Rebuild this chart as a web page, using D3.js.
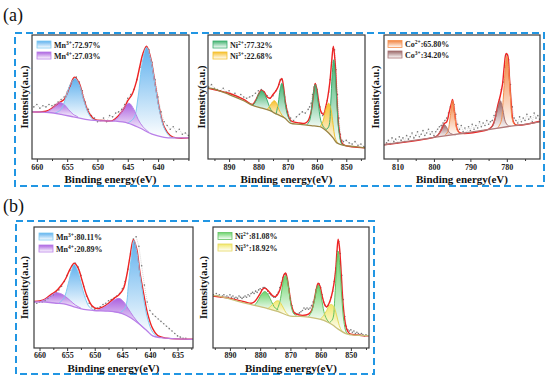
<!DOCTYPE html>
<html>
<head>
<meta charset="utf-8">
<script src="https://cdn.jsdelivr.net/npm/d3@7"></script>
<style>body{margin:0;background:#fff}</style>
</head>
<body>
<svg id="fig" width="550" height="380"></svg>
<script>
// ---- data: [binding energy (eV), intensity (a.u., 0-100)] ----

// (a) Mn 2p
var mnA_raw = [[660.5,42],[660,44],[659.5,41],[659,43],[658.5,42],[658,44],[657.5,43],[657,44],[656.5,46],[656,48],[655.5,50],[655,54],[654.5,59],[654,64],[653.5,66],[653,62],[652.5,55],[652,46],[651.5,40],[651,35],[650.5,33],[650,30],[649.5,31],[649,33],[648.5,30],[648,35],[647.5,34],[647,37],[646.5,38],[646,40],[645.5,44],[645,49],[644.5,52],[644,56],[643.5,64],[643,74],[642.5,84],[642,90],[641.5,88],[641,78],[640.5,64],[640,50],[639.5,38],[639,30],[638.5,27],[638,24],[637.5,26],[637,22],[636.5,24],[636,20],[635.5,21],[635,19]];
var mnA_bg = [[660.8,38],[658,37.5],[656,36],[654,34],[652,32],[650,31],[647,30.5],[645,29],[643,25],[641,20],[639,17.5],[637,17],[634.9,17]];
var mnA_env = [[660.8,38],[658.5,38.5],[657.5,41],[656.5,45],[655.5,48],[654.6,58],[653.8,66],[653,61],[652.3,49],[651.5,38],[650.5,32],[649,31],[647.5,31],[646.5,35],[645.5,42],[645,47],[644.3,52],[643.6,62],[643,75],[642.5,85],[641.9,91],[641.2,81],[640.5,61],[639.8,41],[639,26],[638,19],[637,17],[634.9,17]];
var mnA_m3a = [[645,29],[644,33],[643.3,50],[642.6,78],[641.9,90],[641.2,80],[640.5,60],[639.8,40],[639,25],[638,18],[637.3,17]];
var mnA_m3b = [[657,37],[656,40],[655.2,50],[654.5,60],[653.7,65],[653,60],[652.3,48],[651.6,38],[650.8,32],[650,31]];
var mnA_m4a = [[647.5,30.5],[646.5,34],[645.8,40],[644.8,45],[644,40],[643.3,32],[642.5,26],[641.5,21.5]];
var mnA_m4b = [[658.5,37.5],[657.6,40],[656.8,44],[656.2,45.5],[655.5,44],[654.8,40],[654,36],[653.2,34]];
var mnA_leg = [["Mn","3+",":72.97%"],["Mn","4+",":27.03%"]];

// (a) Ni 2p
var niA_raw = [[897,58],[896,60],[895,57],[894,56],[893,55],[892,57],[891,54],[890,55],[889,52],[888,53],[887,50],[886,52],[885,50],[884,49],[883,50],[882,51],[881,53],[880,55],[879,56],[878,54],[877,51],[876,49],[875,51],[874,55],[873,60],[872.5,64],[872,64],[871.5,58],[871,50],[870.5,43],[870,38],[869,33],[868,31],[867,34],[866,36],[865,38],[864,37],[863,40],[862.5,42],[862,45],[861.5,52],[861,58],[860.5,60],[860,56],[859.5,48],[859,42],[858.5,37],[858,35],[857.5,37],[857,42],[856.5,47],[856,54],[855.5,64],[855,78],[854.5,89],[854,88],[853.5,72],[853,52],[852.5,33],[852,20],[851.5,15],[851,14],[850,15],[849,13],[848,12],[847,14],[846,11],[845,12],[844,10]];
var niA_bg = [[897.2,57],[895.9,57],[890,52],[885,47],[881.7,43],[878.8,41],[876,39],[874.5,37],[872.6,35],[871,33],[869.1,29],[865.7,28],[862,27],[858.9,26],[857.5,24],[856,21],[854.5,17],[853.2,13],[850.9,11],[847,10],[843.6,9]];
var niA_env = [[897.2,57],[890,53],[885,48],[882,44],[881,47],[880,52],[879,55.5],[878,54],[877,50],[876,49],[875,52],[874,55],[873.3,58],[872.6,63],[872,65],[871.4,58],[870.8,46],[870,37],[869,31],[866,29],[864,29],[863,31],[862,38],[861.3,50],[860.6,61],[860,56],[859.4,46],[858.6,38],[857.8,36],[857,42],[856.3,50],[855.6,62],[855,78],[854.4,91],[853.8,78],[853.2,50],[852.5,25],[851.5,13],[850.5,11],[843.6,9]];
var niA_n2a = [[857,23.5],[856,26],[855.3,45],[854.8,68],[854.3,80],[853.8,70],[853.2,45],[852.5,22],[851.5,12],[850.5,11]];
var niA_n2b = [[863.5,27.5],[862.5,31],[861.6,46],[860.6,60],[859.6,46],[858.7,31],[857.8,26],[857,24]];
var niA_n2c = [[874,36],[873.2,45],[872.6,56],[872,61],[871.4,55],[870.8,44],[870,35],[869,30]];
var niA_n2d = [[882,43],[880.8,47],[879.8,53],[878.8,55],[877.8,52],[876.8,46],[875.8,40],[875,38]];
var niA_n3a = [[859,26],[858,30],[857,40],[856,45],[855.2,40],[854.5,28],[853.8,17],[853,13]];
var niA_n3b = [[877,40],[876,43],[875.2,46],[874.5,47],[873.8,45],[873,40],[872,35.5],[871,33]];
var niA_leg = [["Ni","2+",":77.32%"],["Ni","3+",":22.68%"]];

// (a) Co 2p
var coA_raw = [[813,13],[812.5,15],[812,12],[811.5,17],[811,14],[810.5,16],[810,13],[809.5,18],[809,15],[808.5,17],[808,14],[807.5,19],[807,16],[806.5,18],[806,21],[805.5,17],[805,19],[804.5,22],[804,18],[803.5,20],[803,23],[802.5,19],[802,21],[801.5,24],[801,20],[800.5,22],[800,19],[799.5,22],[799,24],[798.5,26],[798,27],[797.5,29],[797,31],[796.5,33],[796,37],[795.5,42],[795,46],[794.5,44],[794,36],[793.5,28],[793,24],[792.5,27],[792,22],[791.5,25],[791,21],[790.5,26],[790,23],[789.5,28],[789,24],[788.5,27],[788,25],[787.5,30],[787,26],[786.5,29],[786,27],[785.5,31],[785,28],[784.5,30],[784,31],[783.5,35],[783,38],[782.5,42],[782,48],[781.5,56],[781,62],[780.5,74],[780,84],[779.5,80],[779,60],[778.5,42],[778,33],[777.5,31],[777,29],[776.5,34],[776,30],[775.5,33],[775,31],[774.5,36],[774,32],[773.5,34],[773,30],[772.5,37],[772,33],[771.5,35],[771,32]];
var coA_bg = [[813.7,11.5],[805,15.2],[800,17.4],[795,19.5],[790,21.6],[785,23.8],[780,26],[775,28],[770.9,30]];
var coA_env = [[813.7,11.5],[800,17.5],[799,19],[798,23.5],[797.2,28.5],[796.5,30],[795.8,38],[795.2,45],[794.9,48],[794.3,37],[793.6,24],[792.8,21],[786,23],[785,24],[784,26.5],[783.2,33],[782.5,43],[781.8,51],[781.2,60],[780.7,75],[780.2,85],[779.8,84],[779.3,66],[778.8,45],[778.2,30],[777.5,27.5],[770.9,30.5]];
var coA_c2a = [[782.5,25],[781.6,30],[781,48],[780.5,70],[780,83],[779.5,72],[779,50],[778.5,32],[777.8,27.5],[777,27.3]];
var coA_c2b = [[797,19],[796.2,22],[795.5,35],[794.9,47],[794.3,36],[793.6,23],[792.8,20.5],[792,20.5]];
var coA_c3a = [[785,24],[784,26],[783.2,32],[782.5,41],[781.8,47],[781.1,40],[780.4,30],[779.6,26.8],[779,26.5]];
var coA_c3b = [[800,17.5],[799,19],[798.2,23],[797.5,27.5],[797.2,28],[796.6,26],[795.8,21.5],[795,20],[794,19.5]];
var coA_leg = [["Co","2+",":65.80%"],["Co","3+",":34.20%"]];

// (b) Mn 2p
var mnB_raw = [[661,38],[660.5,37],[660,38],[659.5,38],[659,39],[658.5,41],[658,43],[657.5,44],[657,46],[656.5,48],[656,51],[655.5,55],[655,60],[654.5,64],[654,68],[653.5,70],[653,67],[652.5,60],[652,51],[651.5,43],[651,37],[650.5,34],[650,32],[649.5,33],[649,34],[648.5,36],[648,37],[647.5,39],[647,40],[646.5,41],[646,43],[645.5,45],[645,49],[644.5,55],[644,65],[643.5,78],[643,90],[642.5,92],[642,84],[641.5,68],[641,52],[640.5,38],[640,31],[639.5,28],[639,26],[638.5,24],[638,22],[637.5,20],[637,18],[636.5,16],[636,14],[635.5,12],[635,10],[634.5,9],[634,8],[633.5,8]];
var mnB_bg = [[661,38],[659,38],[657,37],[655.6,36.5],[654,34.5],[652,32],[650.2,31],[648,30.5],[646.6,30],[645,28.5],[643.5,25],[642,20],[640.5,14],[639.5,10],[638,8.5],[636,7.8],[632.2,7.2]];
var mnB_env = [[661,38.5],[660,39],[659,40.5],[658,44],[657,47],[656.2,51],[655.3,57],[654.5,65],[653.7,70],[653,66],[652.3,56],[651.5,44],[650.5,35],[649.5,32.5],[648.5,34],[647.5,37],[646.5,41],[645.6,44],[644.8,49],[644.2,60],[643.6,76],[643,89.5],[642.4,82],[641.8,62],[641.1,44],[640.4,28],[639.5,16],[638.5,10],[637,8.2],[632.2,7.2]];
var mnB_m3a = [[645.5,29],[644.5,33],[643.9,52],[643.4,74],[642.9,89],[642.4,80],[641.8,60],[641.2,42],[640.4,24],[639.5,13],[638.5,9]];
var mnB_m3b = [[656.5,37],[655.6,41],[654.8,53],[654.2,64],[653.7,69],[653.1,64],[652.4,52],[651.7,41],[651,34],[650.2,31.5]];
var mnB_m4a = [[649.5,31],[648.5,33],[647.5,36],[646.5,39.5],[645.6,41],[644.8,38.5],[644,33],[643,26],[642,20.5],[641,16]];
var mnB_m4b = [[659.8,38.5],[659,40],[658,43],[657.1,45.5],[656.2,45],[655.3,42.5],[654.4,39],[653.5,35.5],[652.5,33]];
var mnB_leg = [["Mn","3+",":80.11%"],["Mn","4+",":20.89%"]];

// (b) Ni 2p
var niB_raw = [[895.5,44],[895,43],[894.5,45],[894,43],[893.5,44],[893,42],[892.5,43],[892,44],[891.5,42],[891,43],[890.5,42],[890,44],[889.5,42],[889,43],[888.5,41],[888,42],[887.5,41],[887,43],[886.5,42],[886,41],[885.5,42],[885,43],[884.5,42],[884,44],[883.5,43],[883,45],[882.5,46],[882,45],[881.5,47],[881,46],[880.5,48],[880,49],[879.5,48],[879,50],[878.5,50],[878,49],[877.5,47],[877,45],[876.5,44],[876,43],[875.5,42],[875,42],[874.5,44],[874,46],[873.5,50],[873,54],[872.5,58],[872,61],[871.5,61],[871,57],[870.5,49],[870,41],[869.5,35],[869,30],[868.5,29],[868,28],[867.5,28],[867,29],[866.5,30],[866,31],[865.5,33],[865,32],[864.5,33],[864,32],[863.5,33],[863,35],[862.5,38],[862,42],[861.5,48],[861,52],[860.5,53],[860,50],[859.5,44],[859,38],[858.5,35],[858,34],[857.5,35],[857,38],[856.5,42],[856,47],[855.5,55],[855,66],[854.5,80],[854,88],[853.5,78],[853,60],[852.5,40],[852,26],[851.5,18],[851,15],[850.5,14],[850,15],[849.5,13],[849,14],[848.5,12],[848,13],[847.5,12],[847,11],[846.5,12],[846,11],[845.5,10],[845,11]];
var niB_bg = [[895.6,43.5],[894,43],[885,37],[878,33],[874,30],[870,26.4],[865.5,26],[860,23.7],[857.8,21.6],[856,19],[854.2,15.6],[851.4,11.6],[849.8,10.8],[844,10.2]];
var niB_env = [[895.6,43],[890,41],[885,38],[883,37],[882,38],[881,41],[880,45],[879.2,48.5],[878.4,49.5],[877.6,48],[876.7,45.5],[875.8,43],[875,42.5],[874.3,44],[873.5,48],[872.7,55],[872.2,60],[871.6,62],[871,57],[870.4,47],[869.6,35],[868.8,29.5],[868,28],[866,27],[864,28],[863,31],[862,41],[861.4,49],[860.8,53.5],[860.2,51],[859.5,43],[858.7,36],[858,34],[857.2,37],[856.4,43],[855.6,53],[855,65],[854.6,80],[854.2,90],[853.8,84],[853.2,62],[852.6,37],[852,23],[851.3,15],[850.5,12],[849,11],[844,10]];
var niB_n2a = [[857,21],[856,24],[855.3,42],[854.8,64],[854.2,80],[853.6,66],[853,42],[852.3,22],[851.5,13],[850.5,11]];
var niB_n2b = [[864,26],[863,30],[862,40],[861.4,48],[860.8,52],[860.2,48],[859.5,38],[858.7,28],[857.8,23],[857,21]];
var niB_n2c = [[874.5,31],[873.5,38],[872.7,50],[872.2,57],[871.6,60],[871,56],[870.4,46],[869.6,33],[868.8,28],[868,27]];
var niB_n2d = [[882,35],[881,38],[880,42.5],[879.2,45.5],[878.4,46.6],[877.6,45],[876.7,41],[875.8,36],[875,33],[874,31.5]];
var niB_n3a = [[860,24],[859,27],[858,31],[857.2,35],[856.4,36],[855.6,34],[854.8,28],[854,20],[853.2,15],[852.5,13]];
var niB_n3b = [[877.5,32.5],[876.5,34.5],[875.5,37],[874.8,38.6],[874,39],[873.2,37],[872.3,33],[871.4,29],[870.5,27]];
var niB_leg = [["Ni","2+",":81.08%"],["Ni","3+",":18.92%"]];

// x tick labels
var mnA_ticks = [660, 655, 650, 645, 640];
var niA_ticks = [890, 880, 870, 860, 850];
var coA_ticks = [810, 800, 790, 780];
var mnB_ticks = [660, 655, 650, 645, 640, 635];
var niB_ticks = [890, 880, 870, 860, 850];

// ---- styles ----
var FONT = "'Liberation Serif','Times New Roman',serif";
var blue = {line: "#80caf2", top: "#4ea8ec"},
    purple = {line: "#b97fe8", top: "#a250dc"},
    green = {line: "#3cae6e", top: "#2fac62"},
    yellow = {line: "#f2c12e", top: "#f6b916"},
    orange = {line: "#f5904e", top: "#f07428"},
    brown = {line: "#a87272", top: "#8e5656"},
    green2 = {line: "#62c262", top: "#5ccf5c"},
    yellow2 = {line: "#e6d85a", top: "#f0e65a"};

var panels = [
  {x0: 32, x1: 189, y0: 35, y1: 159, dom: [660.8, 634.9], ticks: mnA_ticks, step: 2.5,
   raw: mnA_raw, bg: mnA_bg, bgCol: "#b97fe8", env: mnA_env,
   comps: [[mnA_m3a, blue], [mnA_m3b, blue], [mnA_m4a, purple], [mnA_m4b, purple]],
   leg: mnA_leg, legCols: [blue, purple], legX: 37, legY: [44.5, 55.5], ylabX: 27.5, tickY: 169.5, titleY: 182.5},
  {x0: 208, x1: 365, y0: 35, y1: 159, dom: [897.2, 843.6], ticks: niA_ticks, step: 5,
   raw: niA_raw, bg: niA_bg, bgCol: "#9a8444", env: niA_env,
   comps: [[niA_n2a, green], [niA_n2b, green], [niA_n2c, green], [niA_n2d, green], [niA_n3a, yellow], [niA_n3b, yellow]],
   leg: niA_leg, legCols: [green, yellow], legX: 213, legY: [44.5, 55.5], ylabX: 204.5, tickY: 169.5, titleY: 182.5},
  {x0: 384, x1: 540, y0: 35, y1: 159, dom: [813.7, 770.9], ticks: coA_ticks, step: 5,
   raw: coA_raw, bg: coA_bg, bgCol: "#b07878", env: coA_env,
   comps: [[coA_c2a, orange], [coA_c2b, orange], [coA_c3a, brown], [coA_c3b, brown]],
   leg: coA_leg, legCols: [orange, brown], legX: 388, legY: [44, 54.5], ylabX: 378.5, tickY: 169.5, titleY: 182.5},
  {x0: 34, x1: 193, y0: 227, y1: 348, dom: [661, 632.2], ticks: mnB_ticks, step: 2.5,
   raw: mnB_raw, bg: mnB_bg, bgCol: "#b97fe8", env: mnB_env,
   comps: [[mnB_m3a, blue], [mnB_m3b, blue], [mnB_m4a, purple], [mnB_m4b, purple]],
   leg: mnB_leg, legCols: [blue, purple], legX: 39, legY: [236.5, 248.5], ylabX: 27.5, tickY: 358, titleY: 371.5},
  {x0: 213, x1: 369, y0: 227, y1: 348, dom: [895.6, 844], ticks: niB_ticks, step: 5,
   raw: niB_raw, bg: niB_bg, bgCol: "#c9c07a", env: niB_env,
   comps: [[niB_n2a, green2], [niB_n2b, green2], [niB_n2c, green2], [niB_n2d, green2], [niB_n3a, yellow2], [niB_n3b, yellow2]],
   leg: niB_leg, legCols: [green2, yellow2], legX: 218, legY: [236, 247.5], ylabX: 206.5, tickY: 358, titleY: 371.5}
];

var svg = d3.select("#fig");
var defs = svg.append("defs");

// panel letters
svg.append("text").attr("x", 3).attr("y", 21).text("(a)")
  .style("font-family", FONT).style("font-size", "18px").style("fill", "#111");
svg.append("text").attr("x", 3).attr("y", 212).text("(b)")
  .style("font-family", FONT).style("font-size", "18px").style("fill", "#111");

// dashed group boxes
svg.append("rect").attr("x", 15).attr("y", 33).attr("width", 529).attr("height", 153)
  .attr("fill", "none").attr("stroke", "#2196e3").attr("stroke-width", 2).attr("stroke-dasharray", "7,4");
svg.append("rect").attr("x", 16).attr("y", 221).attr("width", 358).attr("height", 153)
  .attr("fill", "none").attr("stroke", "#2196e3").attr("stroke-width", 2).attr("stroke-dasharray", "7,4");

function gradient(id, col) {
  var lg = defs.append("linearGradient").attr("id", id)
    .attr("x1", 0).attr("y1", 0).attr("x2", 0).attr("y2", 1);
  lg.append("stop").attr("offset", "0%").attr("stop-color", col.top).attr("stop-opacity", 0.9);
  lg.append("stop").attr("offset", "100%").attr("stop-color", "#ffffff").attr("stop-opacity", 0.9);
}

panels.forEach(function(p, pi) {
  var x = d3.scaleLinear().domain(p.dom).range([p.x0, p.x1]);
  var y = d3.scaleLinear().domain([0, 100]).range([p.y1, p.y0]);

  defs.append("clipPath").attr("id", "clip" + pi)
    .append("rect").attr("x", p.x0).attr("y", p.y0).attr("width", p.x1 - p.x0).attr("height", p.y1 - p.y0);

  // background lookup for the fill base
  function bgAt(e) {
    var b = p.bg;
    for (var k = 0; k < b.length - 1; k++) {
      if (e <= b[k][0] && e >= b[k + 1][0]) {
        var t = (b[k][0] - e) / (b[k][0] - b[k + 1][0]);
        return b[k][1] + t * (b[k + 1][1] - b[k][1]);
      }
    }
    return e > b[0][0] ? b[0][1] : b[b.length - 1][1];
  }

  var plot = svg.append("g").attr("clip-path", "url(#clip" + pi + ")");
  var curve = d3.curveCatmullRom.alpha(0.5);
  var line = d3.line().x(function(d) { return x(d[0]); }).y(function(d) { return y(d[1]); }).curve(curve);
  var area = d3.area().x(function(d) { return x(d[0]); })
    .y1(function(d) { return y(d[1]); })
    .y0(function(d) { return y(bgAt(d[0])); }).curve(curve);

  // component fills
  p.comps.forEach(function(c, j) {
    var id = "gr" + pi + "_" + j;
    gradient(id, c[1]);
    plot.append("path").datum(c[0]).attr("d", area).attr("fill", "url(#" + id + ")");
  });

  // raw data
  plot.append("path").datum(p.raw).attr("d", d3.line().x(function(d) { return x(d[0]); }).y(function(d) { return y(d[1]); }))
    .attr("fill", "none").attr("stroke", "#b0b0b0").attr("stroke-width", 0.5).attr("stroke-dasharray", "1,1");
  plot.selectAll("circle.raw").data(p.raw).enter().append("circle")
    .attr("cx", function(d) { return x(d[0]); }).attr("cy", function(d) { return y(d[1]); })
    .attr("r", 0.8).attr("fill", "#777");

  // envelope
  plot.append("path").datum(p.env).attr("d", line)
    .attr("fill", "none").attr("stroke", "#ee2424").attr("stroke-width", 1.4);

  // component outlines
  p.comps.forEach(function(c) {
    plot.append("path").datum(c[0]).attr("d", line)
      .attr("fill", "none").attr("stroke", c[1].line).attr("stroke-width", 1);
  });

  // background line
  plot.append("path").datum(p.bg).attr("d", line)
    .attr("fill", "none").attr("stroke", p.bgCol).attr("stroke-width", 1.3);

  // frame
  svg.append("rect").attr("x", p.x0).attr("y", p.y0).attr("width", p.x1 - p.x0).attr("height", p.y1 - p.y0)
    .attr("fill", "none").attr("stroke", "#3a3a3a").attr("stroke-width", 1.2);

  // x axis
  var minor = [];
  for (var v = Math.ceil(p.dom[1] / p.step) * p.step; v <= p.dom[0]; v += p.step) {
    if (p.ticks.indexOf(v) < 0) minor.push(v);
  }
  var ax = svg.append("g").attr("transform", "translate(0," + p.y1 + ")")
    .call(d3.axisBottom(x).tickValues(p.ticks).tickSize(3).tickFormat(d3.format("d")));
  ax.select(".domain").remove();
  ax.selectAll("line").attr("stroke", "#3a3a3a");
  ax.selectAll("text").attr("y", null).attr("dy", null)
    .attr("transform", "translate(0," + (p.tickY - p.y1) + ")")
    .style("font-family", FONT).style("font-size", "8px").style("font-weight", "bold").style("fill", "#222");
  var axm = svg.append("g").attr("transform", "translate(0," + p.y1 + ")")
    .call(d3.axisBottom(x).tickValues(minor).tickSize(2).tickFormat(""));
  axm.select(".domain").remove();
  axm.selectAll("line").attr("stroke", "#3a3a3a");

  // axis titles
  svg.append("text").attr("text-anchor", "middle")
    .attr("x", (p.x0 + p.x1) / 2).attr("y", p.titleY)
    .text("Binding energy(eV)")
    .style("font-family", FONT).style("font-size", "11px").style("font-weight", "bold").style("fill", "#111");
  svg.append("text").attr("text-anchor", "middle")
    .attr("transform", "translate(" + p.ylabX + "," + (p.y0 + p.y1) / 2 + ")rotate(-90)")
    .text("Intensity(a.u.)")
    .style("font-family", FONT).style("font-size", "10.5px").style("font-weight", "bold").style("fill", "#111");

  // legend
  p.leg.forEach(function(l, k) {
    var cy = p.legY[k];
    var id = "lg" + pi + "_" + k;
    gradient(id, p.legCols[k]);
    svg.append("rect").attr("x", p.legX).attr("y", cy - 3.5).attr("width", 14).attr("height", 7)
      .attr("fill", "url(#" + id + ")").attr("stroke", p.legCols[k].line).attr("stroke-width", 0.8);
    var t = svg.append("text").attr("x", p.legX + 17).attr("y", cy + 3)
      .style("font-family", FONT).style("font-size", "8px").style("font-weight", "bold").style("fill", "#222");
    t.append("tspan").text(l[0]);
    t.append("tspan").attr("dy", -3).style("font-size", "5.5px").text(l[1]);
    t.append("tspan").attr("dy", 3).text(l[2]);
  });
});
</script>
</body>
</html>
